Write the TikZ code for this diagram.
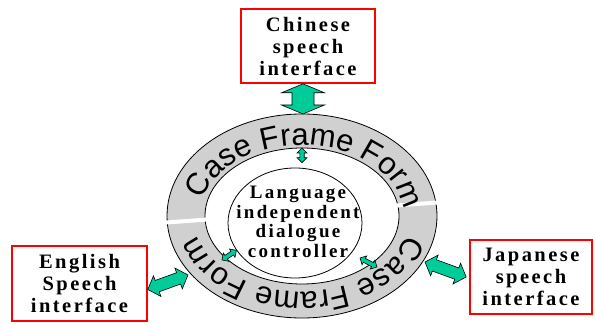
\documentclass[tikz,border=0pt]{standalone}
\usepackage{fontspec}
\setsansfont{Liberation Sans}
\newfontfamily\labelfont{Liberation Serif}[BoldFont={Liberation Serif Bold},LetterSpace=12]
\newfontfamily\ctlfont{Liberation Serif}[BoldFont={Liberation Serif Bold},LetterSpace=12]
\usetikzlibrary{calc,decorations.text,shapes.geometric}
\definecolor{arrowgreen}{RGB}{0,204,153}
\definecolor{ringgray}{RGB}{208,208,208}
\definecolor{boxred}{RGB}{255,0,0}
\newcommand\ringfont{\sffamily\fontsize{31}{31}\selectfont}

\begin{document}
\begin{tikzpicture}[x=1pt,y=1pt,
    iface/.style={draw=boxred, line width=1.6pt, fill=white, align=center, inner sep=0pt,
        font=\labelfont\bfseries\fontsize{20.5}{22}\selectfont},
    dblarrow/.style n args={3}{draw=black, line width=0.6pt, fill=arrowgreen,
        to path={-- ($(\tikztostart)!#1!(\tikztotarget)!#2!90:(\tikztotarget)$)
                 -- ($(\tikztostart)!#1!(\tikztotarget)!#3!90:(\tikztotarget)$)
                 -- ($(\tikztotarget)!#1!(\tikztostart)!#3!-90:(\tikztostart)$)
                 -- ($(\tikztotarget)!#1!(\tikztostart)!#2!-90:(\tikztostart)$)
                 -- (\tikztotarget)
                 -- ($(\tikztotarget)!#1!(\tikztostart)!#2!90:(\tikztostart)$)
                 -- ($(\tikztotarget)!#1!(\tikztostart)!#3!90:(\tikztostart)$)
                 -- ($(\tikztostart)!#1!(\tikztotarget)!#3!-90:(\tikztotarget)$)
                 -- ($(\tikztostart)!#1!(\tikztotarget)!#2!-90:(\tikztotarget)$)
                 -- cycle}},
    bigarrow/.style={dblarrow={10pt}{11pt}{6pt}},
    toparrow/.style={dblarrow={9pt}{21.5pt}{11pt}},
    smallarrow/.style={dblarrow={5pt}{5pt}{2.2pt}},
    ringtext/.style={decorate, decoration={text along path, text align=fit to path,
        text={|\ringfont|#1}}}]
    \useasboundingbox (0,0) rectangle (595,324);

    \node[iface, minimum width=134, minimum height=74] (chi) at (308,278) {Chinese\\speech\\interface};
    \node[iface, minimum width=135, minimum height=75] (eng) at (79.5,40.5) {English\\Speech\\interface};
    \node[iface, minimum width=122, minimum height=74] (jap) at (531,47) {Japanese\\speech\\interface};

    \fill[ringgray, draw=black, line width=0.8pt, even odd rule]
        (302,108) ellipse[x radius=135, y radius=102]
        (302,108) ellipse[x radius=97, y radius=68];
    \draw[white, line width=4pt] (160,101) -- (444,122);
    \path[ringtext={Case Frame Form}] (302,108) ++(167:102 and 71) arc[start angle=167, end angle=13, x radius=102, y radius=71];
    \path[ringtext={Case Frame Form}] (302,108) ++(-14:108 and 76) arc[start angle=-14, end angle=-166, x radius=108, y radius=76];

    \node[ellipse, draw, line width=0.8pt, fill=white, minimum width=134, minimum height=110, inner sep=0pt] (ctl) at (295,101) {};
    \node[align=center, font=\ctlfont\bfseries\fontsize{19}{19.5}\selectfont] (ctltxt) at (298,102) {Language\\independent\\dialogue\\controller};

    \coordinate (ringN) at (303,210);
    \coordinate (ringW) at (188,49);
    \coordinate (ringE) at (425,62);
    \coordinate (ringInN) at (302,176);
    \coordinate (ringInW) at (222,64);
    \coordinate (ringInE) at (377,57);
    \coordinate (chiS) at (chi.south -| ringN);
    \coordinate (engE) at ([yshift=-6pt]eng.east);
    \coordinate (japW) at ([xshift=-3pt]jap.west);
    \coordinate (ctlN) at ($(ctl.north)+(7,5)$);
    \coordinate (ctlSW) at (ctl.205);
    \coordinate (ctlSE) at (360,66);

    \draw[toparrow] (chiS) to (ringN);
    \draw[bigarrow] (engE) to (ringW);
    \draw[bigarrow] (ringE) to (japW);
    \draw[smallarrow] (ringInN) to (ctlN);
    \draw[smallarrow] (ringInW) to (ctlSW);
    \draw[smallarrow] (ctlSE) to (ringInE);
\end{tikzpicture}
\end{document}
